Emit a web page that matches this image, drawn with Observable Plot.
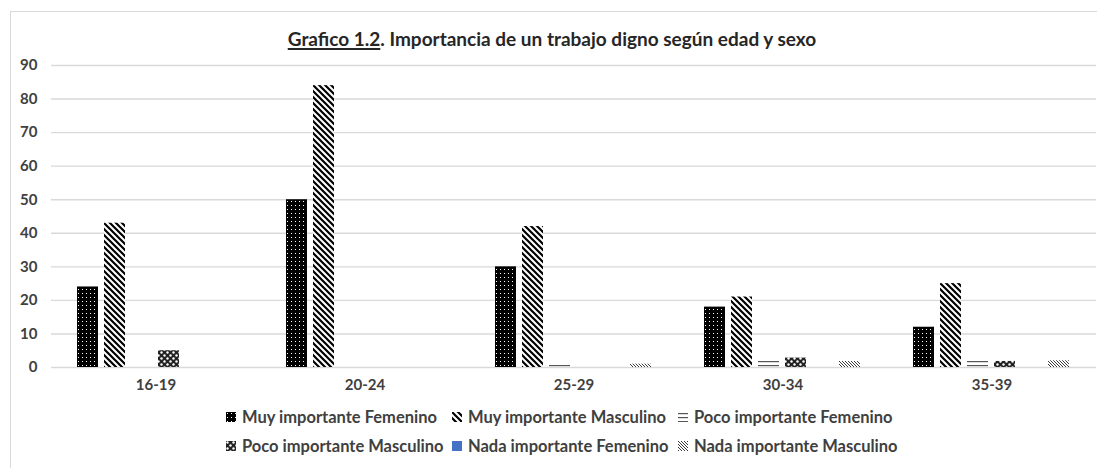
<!DOCTYPE html>
<html>
<head>
<meta charset="utf-8">
<script src="https://cdn.jsdelivr.net/npm/d3@7"></script>
<script src="https://cdn.jsdelivr.net/npm/@observablehq/plot@0.6"></script>
<style>
  html, body { margin: 0; padding: 0; background: #fff; }
  body { width: 1097px; height: 468px; position: relative; overflow: hidden; font-family: Lato, "Open Sans", sans-serif; }
  #frame { position: absolute; left: 10px; top: 11px; width: 1200px; height: 600px; border-left: 1.5px solid #d9d9d9; border-top: 1.5px solid #d9d9d9; }
  #title { position: absolute; left: 0; top: 26px; width: 1104px; text-align: center; font-size: 19px; font-weight: bold; color: #262626; white-space: nowrap; line-height: 26px; }
  #title u { text-decoration-thickness: 1.5px; text-underline-offset: 2px; }
  #chart { position: absolute; left: 0; top: 0; }
  #legend { position: absolute; left: 226px; top: 405px; display: grid; grid-template-columns: 226px 226px 240px; row-gap: 5px; font-size: 16.5px; font-weight: bold; color: #404040; }
  .item { display: flex; align-items: center; height: 24px; white-space: nowrap; }
  .item svg { margin-right: 6px; flex: none; }
</style>
</head>
<body>
<div id="frame"></div>
<div id="title"><u>Grafico 1.2</u>. Importancia de un trabajo digno según edad y sexo</div>
<div id="chart"></div>
<div id="legend"></div>
<script>
const ages = ["16-19", "20-24", "25-29", "30-34", "35-39"];
const series = [
  "Muy importante Femenino",
  "Muy importante Masculino",
  "Poco importante Femenino",
  "Poco importante Masculino",
  "Nada importante Femenino",
  "Nada importante Masculino"
];
const muyFem   = [24, 50, 30, 18, 12];
const muyMasc  = [43, 84, 42, 21, 25];
const pocoFem  = [0, 0, 0.8, 2.3, 2.3];
const pocoMasc = [5, 0, 0, 2.8, 1.8];
const nadaFem  = [0, 0, 0, 0, 0];
const nadaMasc = [0, 0, 1, 1.8, 2];
const yTicks = [0, 10, 20, 30, 40, 50, 60, 70, 80, 90];

const seriesValues = [muyFem, muyMasc, pocoFem, pocoMasc, nadaFem, nadaMasc];
const patternIds = ["pMuyFem", "pMuyMasc", "pPocoFem", "pPocoMasc", "pNadaFem", "pNadaMasc"];
const fills = patternIds.map(id => `url(#${id})`);

const data = [];
ages.forEach((age, i) => {
  series.forEach((s, j) => {
    data.push({age, series: s, value: seriesValues[j][i]});
  });
});

const defs = `
<pattern id="pMuyFem" patternUnits="userSpaceOnUse" width="4" height="4">
  <rect width="4" height="4" fill="#000"/>
  <rect x="1" y="1" width="1" height="1" fill="#fff"/>
</pattern>
<pattern id="pMuyMasc" patternUnits="userSpaceOnUse" width="6" height="6">
  <rect width="6" height="6" fill="#fff"/>
  <path d="M-1,-1 L7,7 M-1,5 L1,7 M5,-1 L7,1" stroke="#000" stroke-width="2.2"/>
</pattern>
<pattern id="pPocoFem" patternUnits="userSpaceOnUse" width="4" height="4">
  <rect width="4" height="4" fill="#fff"/>
  <rect y="1" width="4" height="1.2" fill="#555"/>
</pattern>
<pattern id="pPocoMasc" patternUnits="userSpaceOnUse" width="6" height="6">
  <rect width="6" height="6" fill="#222"/>
  <circle cx="1.5" cy="1.5" r="1.2" fill="#fff"/>
  <circle cx="4.5" cy="4.5" r="1.2" fill="#fff"/>
</pattern>
<pattern id="pNadaFem" patternUnits="userSpaceOnUse" width="4" height="4">
  <rect width="4" height="4" fill="#4472C4"/>
</pattern>
<pattern id="pNadaMasc" patternUnits="userSpaceOnUse" width="3" height="3">
  <rect width="3" height="3" fill="#fff"/>
  <path d="M-1,-1 L4,4 M-1,2 L1,4 M2,-1 L4,1" stroke="#222" stroke-width="0.9"/>
</pattern>`;

const plot = Plot.plot({
  width: 1097,
  height: 400,
  marginLeft: 50,
  marginRight: 0,
  marginTop: 65,
  marginBottom: 33,
  style: {fontFamily: "Lato, 'Open Sans', sans-serif", fontSize: "15px", fontWeight: "bold", color: "#404040", background: "transparent"},
  fx: {domain: ages, padding: 0, label: null},
  x: {domain: series, paddingInner: 0.21, paddingOuter: 0.87, axis: null},
  y: {domain: [0, 90], label: null},
  color: {domain: series, range: fills},
  marks: [
    Plot.gridY(yTicks, {stroke: "#d9d9d9", strokeOpacity: 1, strokeWidth: 1.4}),
    Plot.barY(data, {fx: "age", x: "series", y: "value", fill: "series"}),
    Plot.axisY(yTicks, {tickSize: 0, tickPadding: 14, label: null, fontSize: 15, fontWeight: "bold"}),
    Plot.axisFx({anchor: "bottom", tickSize: 0, tickPadding: 12, label: null, fontSize: 15, fontWeight: "bold"})
  ]
});
d3.select(plot).insert("defs", ":first-child").html(defs);
document.getElementById("chart").appendChild(plot);

// Legend
const legend = document.getElementById("legend");
series.forEach((s, j) => {
  const item = document.createElement("div");
  item.className = "item";
  const sw = `<svg width="10" height="10" viewBox="0 0 10 10"><rect width="10" height="10" fill="${fills[j]}"/></svg>`;
  item.innerHTML = sw + `<span>${s}</span>`;
  legend.appendChild(item);
});
</script>
</body>
</html>
